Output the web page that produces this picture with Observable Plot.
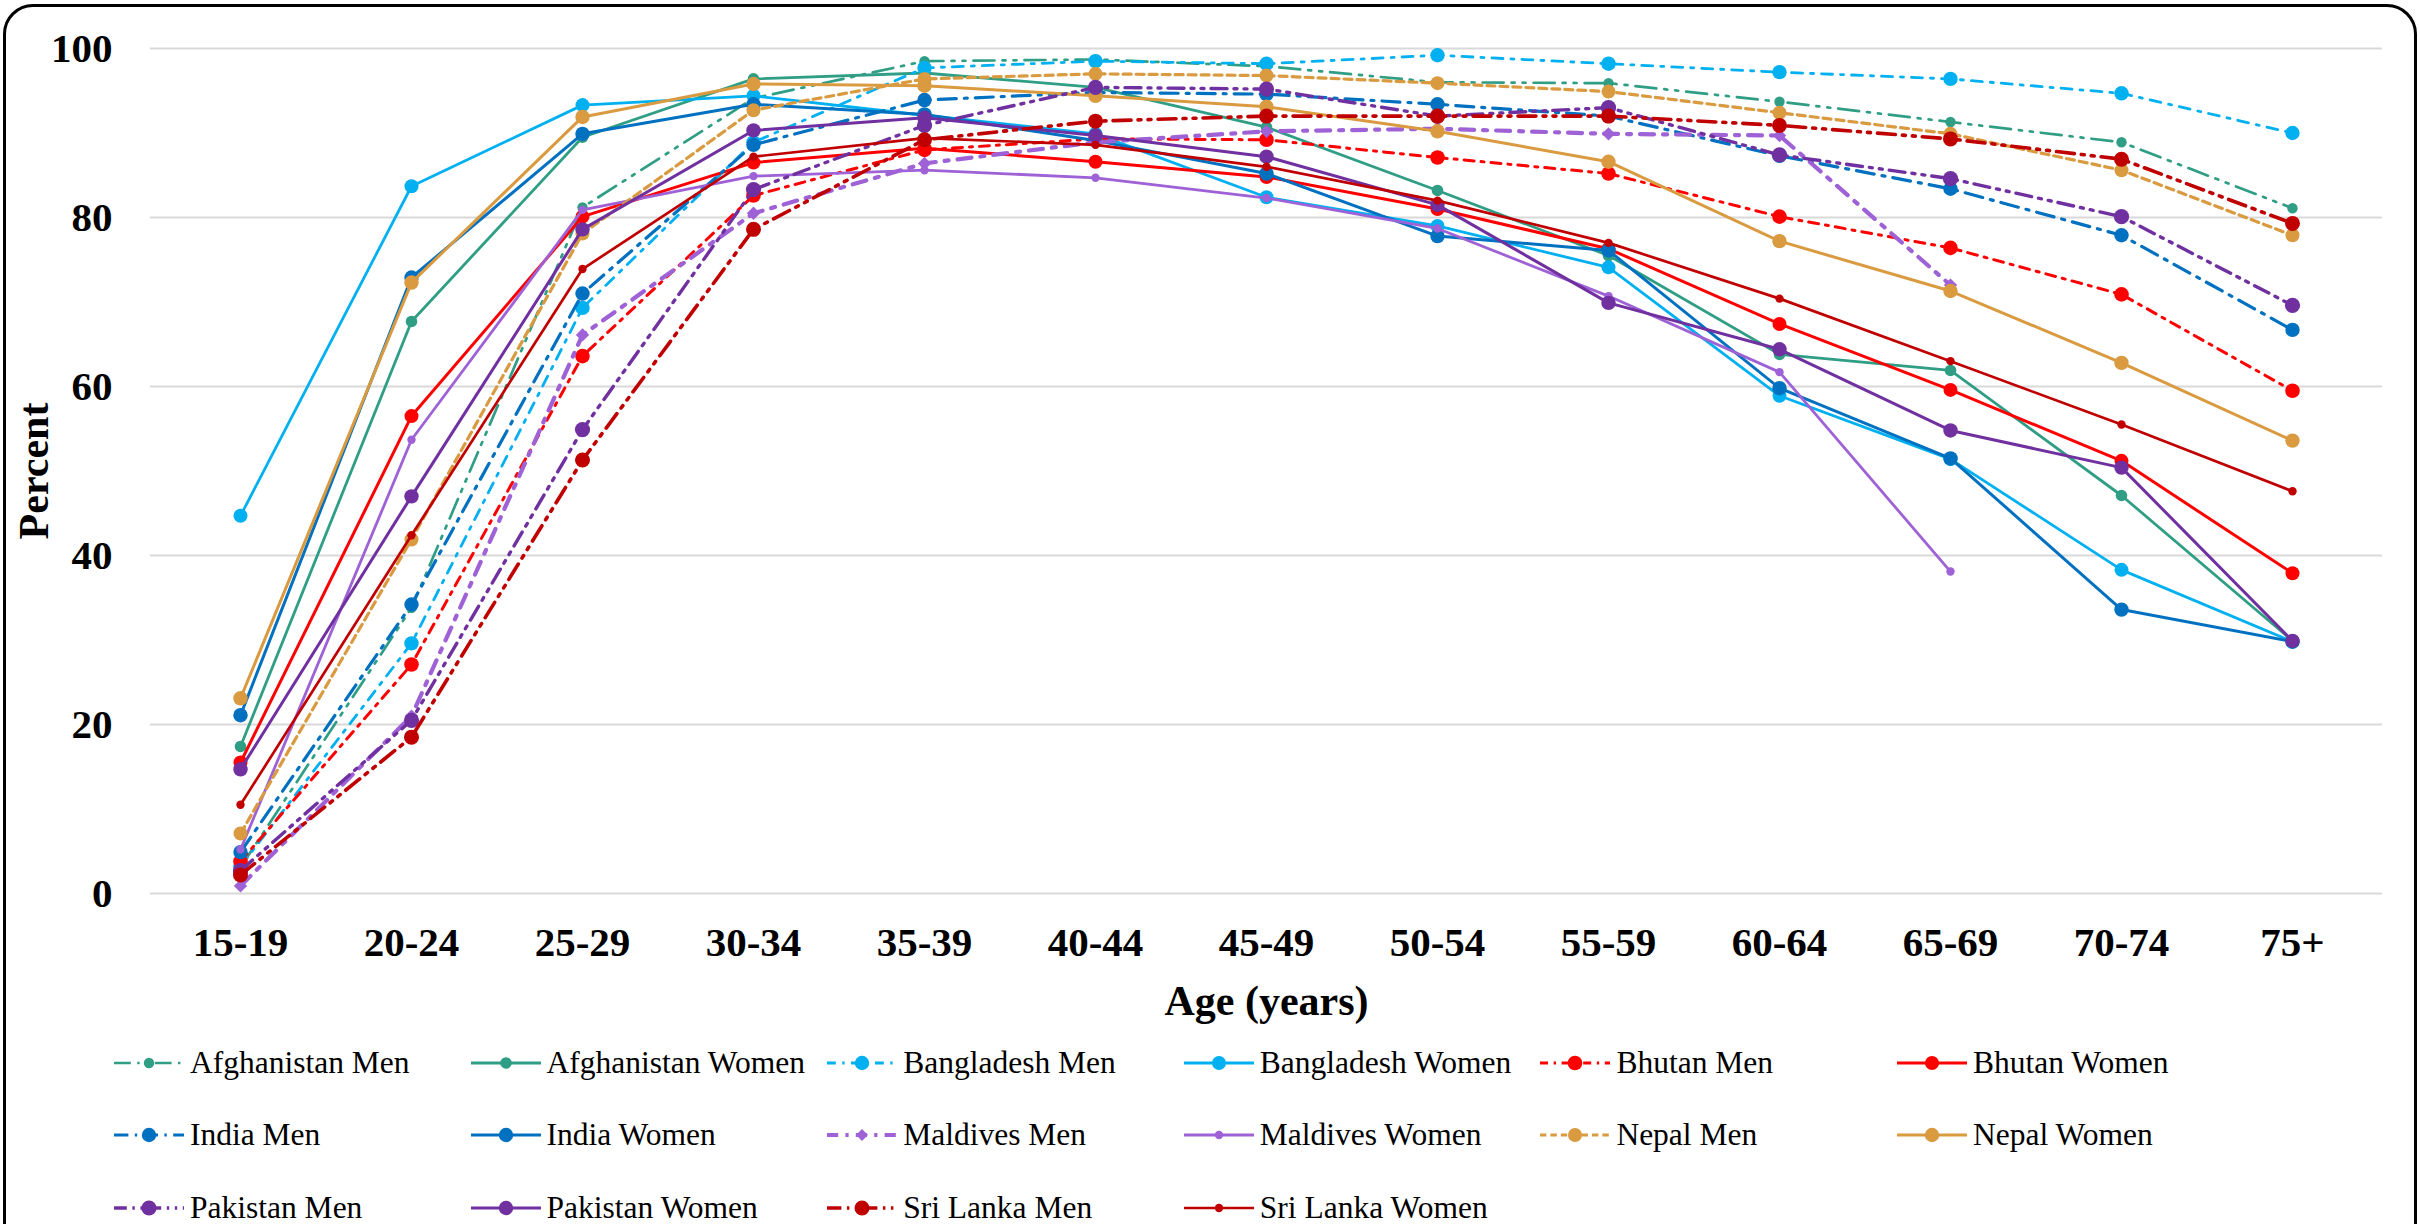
<!DOCTYPE html>
<html>
<head>
<meta charset="utf-8">
<script src="https://cdn.jsdelivr.net/npm/d3@7"></script>
<script src="https://cdn.jsdelivr.net/npm/@observablehq/plot@0.6"></script>
<style>
html, body { margin: 0; padding: 0; background: #fff; width: 2420px; height: 1224px; overflow: hidden; }
#wrap { position: relative; width: 2420px; height: 1224px; font-family: "Liberation Serif", "Times New Roman", serif; }
#frame { position: absolute; left: 3px; top: 4px; width: 2414px; height: 1320px; border: 3.5px solid #000; border-radius: 30px; box-sizing: border-box; pointer-events: none; }
#chart { position: absolute; left: 0; top: 0; }
#legend { position: absolute; left: 0; top: 1030px; width: 2420px; height: 194px; }
.item { position: absolute; display: flex; align-items: center; height: 40px; font-size: 31.5px; color: #000; white-space: nowrap; }
.item svg { margin-right: 6px; flex: none; }
</style>
</head>
<body>
<div id="wrap">
  <div id="chart"></div>
  <div id="legend"></div>
  <div id="frame"></div>
</div>
<script>
// ---- Data ----
const ages = ["15-19","20-24","25-29","30-34","35-39","40-44","45-49","50-54","55-59","60-64","65-69","70-74","75+"];
const yTicks = [0, 20, 40, 60, 80, 100];

const afghanistanMen   = [3.1, 33.8, 81.2, 94.1, 98.5, 98.7, 97.9, 96.0, 95.9, 93.7, 91.3, 88.9, 81.1];
const afghanistanWomen = [17.4, 67.7, 89.5, 96.4, 97.1, 95.4, 90.7, 83.2, 75.5, 63.8, 61.9, 47.1, 29.9];
const bangladeshMen    = [3.2, 29.6, 69.3, 88.9, 97.7, 98.5, 98.2, 99.2, 98.2, 97.2, 96.4, 94.7, 90.0];
const bangladeshWomen  = [44.7, 83.7, 93.3, 94.4, 92.1, 89.9, 82.4, 79.0, 74.1, 58.9, 51.4, 38.3, 29.8];
const bhutanMen        = [3.8, 27.1, 63.6, 82.6, 88.0, 89.3, 89.2, 87.1, 85.2, 80.1, 76.4, 70.9, 59.5];
const bhutanWomen      = [15.5, 56.5, 80.1, 86.5, 88.2, 86.6, 84.8, 81.0, 76.3, 67.4, 59.6, 51.2, 37.9];
const indiaMen         = [4.9, 34.2, 71.0, 88.6, 93.9, 94.8, 94.6, 93.4, 92.0, 87.3, 83.4, 77.9, 66.7];
const indiaWomen       = [21.1, 72.9, 89.9, 93.4, 92.2, 89.1, 85.2, 77.8, 76.1, 59.8, 51.5, 33.6, 29.8];
const maldivesMen      = [0.9, 21.0, 66.1, 80.5, 86.4, 88.9, 90.2, 90.5, 89.9, 89.7, 72.0, null, null];
const maldivesWomen    = [5.2, 53.7, 80.9, 84.9, 85.6, 84.7, 82.3, 78.7, 70.7, 61.7, 38.1, null, null];
const nepalMen         = [7.1, 41.9, 78.1, 92.7, 96.4, 97.0, 96.8, 95.9, 94.9, 92.4, 89.9, 85.6, 77.9];
const nepalWomen       = [23.1, 72.3, 91.9, 95.8, 95.6, 94.4, 93.1, 90.2, 86.6, 77.2, 71.3, 62.8, 53.6];
const pakistanMen      = [2.7, 20.5, 54.9, 83.3, 90.9, 95.4, 95.2, 92.0, 93.0, 87.4, 84.6, 80.1, 69.6];
const pakistanWomen    = [14.7, 47.0, 78.6, 90.3, 91.8, 89.7, 87.2, 81.5, 69.9, 64.4, 54.8, 50.4, 29.9];
const sriLankaMen      = [2.2, 18.5, 51.3, 78.6, 89.2, 91.4, 92.0, 92.0, 92.0, 90.9, 89.3, 86.9, 79.3];
const sriLankaWomen    = [10.5, 42.4, 73.9, 87.2, 89.4, 88.6, 86.0, 82.0, 77.0, 70.4, 63.0, 55.5, 47.6];

// ---- Styles ----
const C = {
  afg: "#2f9e85", ban: "#00b0f0", bhu: "#ff0000", ind: "#0070c0",
  mal: "#9e62d6", nep: "#d99a40", pak: "#7030a0", sri: "#c00000"
};
const series = [
  {name: "Afghanistan Men",   values: afghanistanMen,   color: C.afg, dash: "21,8,3,8,3,8", width: 2.7, r: 5.2, symbol: "circle"},
  {name: "Afghanistan Women", values: afghanistanWomen, color: C.afg, dash: null,           width: 2.8, r: 5.8, symbol: "circle"},
  {name: "Bangladesh Men",    values: bangladeshMen,    color: C.ban, dash: "11,8,3,8",     width: 2.8, r: 7.2, symbol: "circle"},
  {name: "Bangladesh Women",  values: bangladeshWomen,  color: C.ban, dash: null,           width: 2.8, r: 7,   symbol: "circle"},
  {name: "Bhutan Men",        values: bhutanMen,        color: C.bhu, dash: "10,7,3,7",     width: 3,   r: 7.3, symbol: "circle"},
  {name: "Bhutan Women",      values: bhutanWomen,      color: C.bhu, dash: null,           width: 3,   r: 7,   symbol: "circle"},
  {name: "India Men",         values: indiaMen,         color: C.ind, dash: "18,8,3,8",     width: 3.2, r: 7.2, symbol: "circle"},
  {name: "India Women",       values: indiaWomen,       color: C.ind, dash: null,           width: 3,   r: 7.2, symbol: "circle"},
  {name: "Maldives Men",      values: maldivesMen,      color: C.mal, dash: "14,9,4,9",     width: 4.2, r: 6,   symbol: "diamond2"},
  {name: "Maldives Women",    values: maldivesWomen,    color: C.mal, dash: null,           width: 2.8, r: 4.2, symbol: "circle"},
  {name: "Nepal Men",         values: nepalMen,         color: C.nep, dash: "8,5",          width: 3.2, r: 7,   symbol: "circle"},
  {name: "Nepal Women",       values: nepalWomen,       color: C.nep, dash: null,           width: 3,   r: 7.2, symbol: "circle"},
  {name: "Pakistan Men",      values: pakistanMen,      color: C.pak, dash: "16,7,3,7,3,7", width: 3.4, r: 7.6, symbol: "circle"},
  {name: "Pakistan Women",    values: pakistanWomen,    color: C.pak, dash: null,           width: 3,   r: 7.2, symbol: "circle"},
  {name: "Sri Lanka Men",     values: sriLankaMen,      color: C.sri, dash: "18,7,3,7,3,7", width: 3.6, r: 7.5, symbol: "circle"},
  {name: "Sri Lanka Women",   values: sriLankaWomen,    color: C.sri, dash: null,           width: 2.7, r: 4.2, symbol: "circle"}
];

const FONT = '"Liberation Serif", "Times New Roman", serif';

const marks = [
  Plot.gridY(yTicks, {stroke: "#d9d9d9", strokeOpacity: 1, strokeWidth: 2.2}),
  Plot.axisX({tickSize: 0, tickPadding: 33, fontSize: 41, fontWeight: "bold", label: null}),
  Plot.axisY(yTicks, {tickSize: 0, tickPadding: 38, fontSize: 41, fontWeight: "bold", label: null}),
  Plot.text(["Age (years)"], {text: d => d, frameAnchor: "bottom", lineAnchor: "middle", textAnchor: "middle", dy: 108, fontSize: 42, fontWeight: "bold"}),
  Plot.text(["Percent"], {text: d => d, frameAnchor: "left", lineAnchor: "middle", textAnchor: "middle", dx: -116, rotate: -90, fontSize: 42, fontWeight: "bold"})
];

for (const s of series) {
  const rows = ages.map((a, i) => ({age: a, value: s.values[i]})).filter(d => d.value != null);
  marks.push(Plot.line(rows, {
    x: "age", y: "value", stroke: s.color, strokeWidth: s.width,
    strokeDasharray: s.dash || undefined, strokeLinejoin: "round", curve: "linear"
  }));
  marks.push(Plot.dot(rows, {
    x: "age", y: "value", r: s.r, fill: s.color, stroke: "none", symbol: s.symbol
  }));
}

const chart = Plot.plot({
  width: 2420,
  height: 1030,
  marginLeft: 150,
  marginRight: 38,
  marginTop: 48,
  marginBottom: 137,
  style: {fontFamily: FONT, fontSize: "41px", background: "transparent", color: "#000", overflow: "visible"},
  x: {type: "point", domain: ages, padding: 0.5},
  y: {domain: [0, 100]},
  marks
});
document.getElementById("chart").appendChild(chart);

// ---- Legend ----
const legend = document.getElementById("legend");
const colStep = 356.6, col0 = 114, rowCenters = [33, 105, 178];
series.forEach((s, i) => {
  const col = i % 6, row = Math.floor(i / 6);
  const item = document.createElement("div");
  item.className = "item";
  item.style.left = (col0 + col * colStep) + "px";
  item.style.top = (rowCenters[row] - 20) + "px";
  const ns = "http://www.w3.org/2000/svg";
  const svg = document.createElementNS(ns, "svg");
  svg.setAttribute("width", 70); svg.setAttribute("height", 24);
  const line = document.createElementNS(ns, "line");
  line.setAttribute("x1", 0); line.setAttribute("x2", 70);
  line.setAttribute("y1", 12); line.setAttribute("y2", 12);
  line.setAttribute("stroke", s.color);
  line.setAttribute("stroke-width", s.width);
  if (s.dash) {
    const parts = s.dash.split(",").map(Number).map(v => v * 0.8);
    line.setAttribute("stroke-dasharray", parts.join(","));
  }
  svg.appendChild(line);
  if (s.symbol === "diamond2") {
    const p = document.createElementNS(ns, "path");
    const r = s.r;
    p.setAttribute("d", `M35,${12 - r}L${35 + r},12L35,${12 + r}L${35 - r},12Z`);
    p.setAttribute("fill", s.color);
    svg.appendChild(p);
  } else {
    const c = document.createElementNS(ns, "circle");
    c.setAttribute("cx", 35); c.setAttribute("cy", 12); c.setAttribute("r", s.r);
    c.setAttribute("fill", s.color);
    svg.appendChild(c);
  }
  item.appendChild(svg);
  const t = document.createElement("span");
  t.textContent = s.name;
  item.appendChild(t);
  legend.appendChild(item);
});
</script>
</body>
</html>
